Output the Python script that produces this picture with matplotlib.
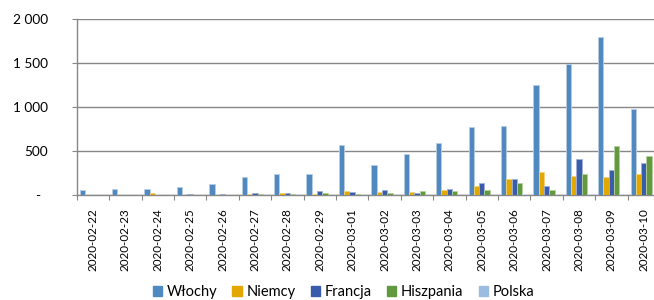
import matplotlib
matplotlib.use('Agg')
import matplotlib.pyplot as plt
import matplotlib.transforms as mtransforms
from matplotlib.patches import Patch
import numpy as np

# daily new cases
dates = ['2020-02-22', '2020-02-23', '2020-02-24', '2020-02-25', '2020-02-26',
         '2020-02-27', '2020-02-28', '2020-02-29', '2020-03-01', '2020-03-02',
         '2020-03-03', '2020-03-04', '2020-03-05', '2020-03-06', '2020-03-07',
         '2020-03-08', '2020-03-09', '2020-03-10']
wlochy = [54, 64, 68, 90, 122, 200, 233, 240, 566, 342, 466, 587, 769, 778, 1247, 1492, 1797, 977]
niemcy = [0, 0, 14, 0, 0, 3, 20, 8, 42, 30, 30, 50, 98, 174, 257, 212, 201, 232]
francja = [0, 0, 0, 4, 5, 18, 18, 38, 27, 53, 16, 65, 128, 177, 94, 402, 281, 363]
hiszpania = [0, 0, 0, 0, 0, 3, 10, 15, 8, 19, 42, 38, 52, 128, 57, 239, 553, 443]
polska = [0, 0, 0, 0, 0, 0, 0, 0, 0, 0, 0, 1, 0, 4, 1, 5, 6, 5]

series = [('Włochy', wlochy, '#4F89C0', '#B7CDE6'),
          ('Niemcy', niemcy, '#E3A800', '#F2D27A'),
          ('Francja', francja, '#3A5DAB', '#9FB1D8'),
          ('Hiszpania', hiszpania, '#62993E', '#B4D09E'),
          ('Polska', polska, '#9BBBE0', '#CFDEF0')]

plt.rcParams['font.family'] = ['Lato', 'DejaVu Sans']
grid_col = '#878787'

fig = plt.figure(figsize=(6.54, 3.0), dpi=100)
ax = fig.add_axes([76.7 / 654, 1 - 194.7 / 300, (660 - 76.7) / 654, (194.7 - 19.3) / 300])

x = np.arange(len(dates))
bw = 0.1636
for j, (name, vals, col, edge) in enumerate(series):
    ax.bar(x + (j - 2) * bw, vals, width=bw, color=col, edgecolor=edge,
           linewidth=0.6, zorder=3)

ax.set_xlim(-0.5, len(dates) - 0.5)
ax.set_ylim(0, 2000)

# y axis
ax.set_yticks([0, 500, 1000, 1500, 2000])
ax.set_yticklabels(['-', '500', '1 000', '1 500', '2 000'])
ax.tick_params(axis='y', direction='out', length=3.6, width=0.8, color=grid_col,
               pad=17, labelsize=9.8, labelcolor='black')
zero_lbl = ax.get_yticklabels()[0]
zero_lbl.set_transform(zero_lbl.get_transform() +
                       mtransforms.ScaledTranslation(-8 / 100, 0, fig.dpi_scale_trans))
ax.yaxis.grid(True, color=grid_col, linewidth=1.0, zorder=0)

# x axis: labels at centers, tick marks on category boundaries
ax.set_xticks(x)
ax.set_xticklabels(dates, rotation=90, fontsize=8.4)
ax.set_xticks(np.arange(len(dates) + 1) - 0.5, minor=True)
ax.tick_params(axis='x', which='major', length=0, pad=9.5)
ax.tick_params(axis='x', which='minor', direction='out', length=3.6, width=0.8, color=grid_col)

for side in ['top', 'right']:
    ax.spines[side].set_visible(False)
for side in ['left', 'bottom']:
    ax.spines[side].set_color(grid_col)
    ax.spines[side].set_linewidth(1.0)
ax.set_axisbelow(True)

handles = [Patch(facecolor=col, edgecolor=col) for _, _, col, _ in series]
labels = [s[0] for s in series]
fig.legend(handles, labels, loc='lower center', bbox_to_anchor=(0.525, -0.04), ncol=5,
           frameon=False, fontsize=10.5, handlelength=0.65, handleheight=0.65,
           handletextpad=0.3, columnspacing=1.05)

fig.savefig('out.png', dpi=100)
